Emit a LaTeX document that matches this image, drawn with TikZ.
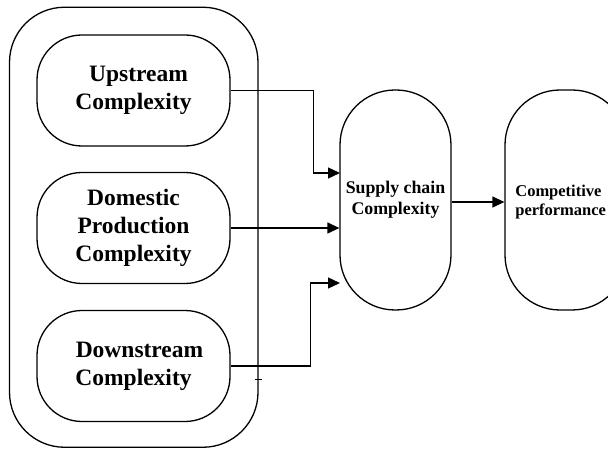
\documentclass[tikz,border=0pt]{standalone}
\usepackage{fontspec}
\setmainfont{Liberation Serif}
\usetikzlibrary{arrows.meta}
\begin{document}
\begin{tikzpicture}[x=1pt,y=-1pt,line width=1.3pt,
    part/.style={draw,rounded corners=45pt,minimum width=193pt,minimum height=111pt,
      align=center,font=\fontsize{23.5}{28}\selectfont\bfseries},
    pill/.style={draw,rounded corners=55pt,minimum height=220pt,
      font=\fontsize{17.8}{20}\selectfont\bfseries},
    link/.style={-{Triangle[length=12pt,width=11pt]}}]
    \useasboundingbox (0,0) rectangle (608,449);
    \node [draw,rounded corners=55pt,minimum width=248.5pt,minimum height=440pt] (group) at (133.75,227.25) {};
    \node [part] (up) at (133.5,90.5) {\hspace*{10pt}Upstream\\Complexity};
    \node [part] (dom) at (133.5,228) {Domestic\\Production\\Complexity};
    \node [part] (down) at (133.5,366) {\hspace*{12pt}Downstream\\Complexity};
    \node [pill,minimum width=111pt,align=center] (supply) at (395.5,200) {Supply chain\\[1pt]Complexity};
    \node [pill,minimum width=122pt,
      label={[anchor=west,xshift=7pt,yshift=-2pt,align=left,font=\fontsize{16.5}{19.5}\selectfont\bfseries]west:Competitive\\performance}] (comp) at (566,200) {};
    \coordinate (in1) at (340,173);
    \coordinate (in3) at (340,283);
    \draw [link] (up.east) -- ++(83,0) |- (in1);
    \draw [link] (dom.east) -- (dom.east -| supply.west);
    \draw [link] (down.east) -- ++(80,0) |- (in3);
    \draw [link] (supply.east |- 0,202) -- (comp.west |- 0,202);
    \draw [line width=0.8pt] (254.5,379) -- (261.5,379);
\end{tikzpicture}
\end{document}
